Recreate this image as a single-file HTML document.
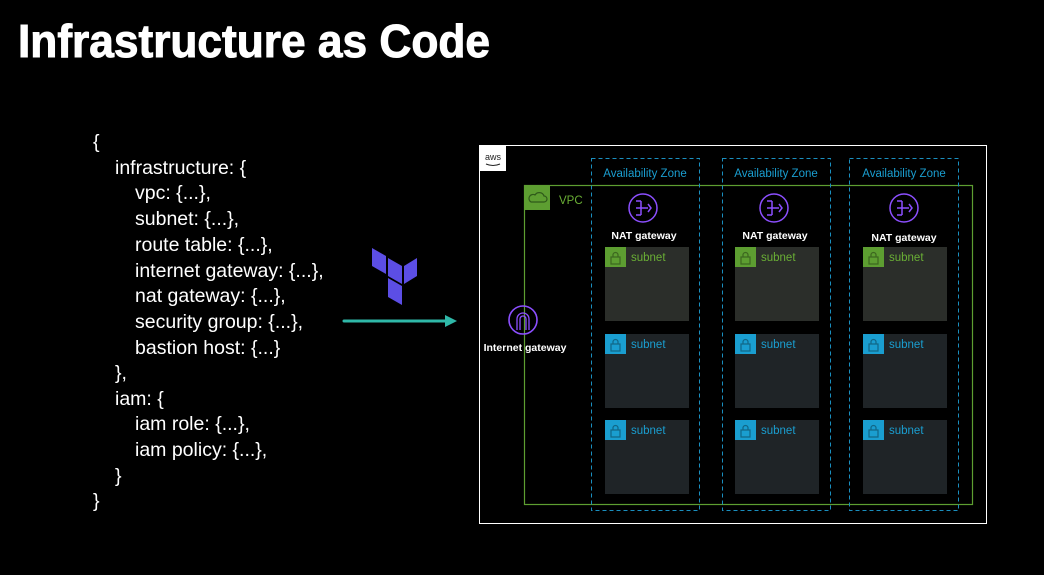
<!DOCTYPE html>
<html><head><meta charset="utf-8"><style>
html,body{margin:0;padding:0;background:#000;}
svg{display:block;}
</style></head><body>
<svg width="1044" height="575" viewBox="0 0 1044 575" xmlns="http://www.w3.org/2000/svg" font-family="Liberation Sans, sans-serif">
<rect width="1044" height="575" fill="#000"/>
<text x="18" y="57" font-size="46" font-weight="bold" fill="#fff" stroke="#fff" stroke-width="1" textLength="472" lengthAdjust="spacingAndGlyphs">Infrastructure as Code</text>
<g fill="#fff" font-size="19.5">
<text x="93" y="148">{</text>
<text x="115" y="174">infrastructure: {</text>
<text x="135" y="199">vpc: {...},</text>
<text x="135" y="225">subnet: {...},</text>
<text x="135" y="251">route table: {...},</text>
<text x="135" y="277">internet gateway: {...},</text>
<text x="135" y="302">nat gateway: {...},</text>
<text x="135" y="328">security group: {...},</text>
<text x="135" y="354">bastion host: {...}</text>
<text x="115" y="379">},</text>
<text x="115" y="405">iam: {</text>
<text x="135" y="430">iam role: {...},</text>
<text x="135" y="456">iam policy: {...},</text>
<text x="115" y="482">}</text>
<text x="93" y="507">}</text>
</g>
<!-- terraform logo -->
<g fill="#5c4ee5">
<polygon points="372,248 386,256 386,274 372,266"/>
<polygon points="388,258 402,266 402,284 388,276"/>
<polygon points="404,266 417,258 417,276 404,284"/>
<polygon points="388,278 402,286 402,305 388,297"/>
</g>
<line x1="344" y1="321" x2="446" y2="321" stroke="#2fb8a8" stroke-width="3" stroke-linecap="round"/>
<polygon points="445,315 457,321 445,327" fill="#2fb8a8"/>
<!-- outer box -->
<rect x="479.5" y="145.5" width="507" height="378" fill="none" stroke="#fff" stroke-width="1"/>
<rect x="480" y="146" width="26" height="25" fill="#fff"/>
<text x="493" y="160" font-size="9" fill="#222" text-anchor="middle">aws</text>
<path d="M486 164 q7 3 14 0" stroke="#222" fill="none" stroke-width="1"/>
<!-- VPC -->
<rect x="524.5" y="185.5" width="448" height="319" fill="none" stroke="#5d9e31" stroke-width="1.2"/>
<rect x="524" y="185" width="26" height="25" fill="#5d9e31"/>
<path d="M531 202 h13 a3 3 0 0 0 0-6 a5 5 0 0 0-9-1 a3 3 0 0 0-4 7z" fill="none" stroke="#2f5a1a" stroke-width="1.2"/>
<text x="559" y="204" font-size="11.5" fill="#6aaf35">VPC</text>
<!-- internet gateway -->
<circle cx="523" cy="320" r="14" fill="none" stroke="#8c4fff" stroke-width="1.6"/>
<path d="M517 330 v-11 a6 6 0 0 1 12 0 v11 M520 330 v-11 a3 3 0 0 1 6 0 v11" fill="none" stroke="#8c4fff" stroke-width="1.3"/>
<text x="525" y="351" font-size="10.5" fill="#fff" text-anchor="middle" font-weight="bold">Internet gateway</text>
<g font-size="11.5">
<rect x="591.5" y="158.5" width="108" height="352" fill="none" stroke="#1a8fbf" stroke-dasharray="4,3"/>
<rect x="722.5" y="158.5" width="108" height="352" fill="none" stroke="#1a8fbf" stroke-dasharray="4,3"/>
<rect x="849.5" y="158.5" width="109" height="352" fill="none" stroke="#1a8fbf" stroke-dasharray="4,3"/>
<text x="645" y="177" fill="#1a9ed0" text-anchor="middle">Availability Zone</text>
<text x="776" y="177" fill="#1a9ed0" text-anchor="middle">Availability Zone</text>
<text x="904" y="177" fill="#1a9ed0" text-anchor="middle">Availability Zone</text>
</g>
<!-- NAT gateways -->
<g fill="none" stroke="#8c4fff" stroke-width="1.5">
<circle cx="643" cy="208" r="14"/><path d="M636 201 l5 0 M636 208 h12 M636 215 h5 M641 201 v14 M648 204 l3 4 -3 4"/>
<circle cx="774" cy="208" r="14"/><path d="M767 201 l5 0 M767 208 h12 M767 215 h5 M772 201 v14 M779 204 l3 4 -3 4"/>
<circle cx="904" cy="208" r="14"/><path d="M897 201 l5 0 M897 208 h12 M897 215 h5 M902 201 v14 M909 204 l3 4 -3 4"/>
</g>
<g font-size="10.5" fill="#fff" text-anchor="middle" font-weight="bold">
<text x="644" y="239">NAT gateway</text>
<text x="775" y="239">NAT gateway</text>
<text x="904" y="241">NAT gateway</text>
</g>
<!-- subnets -->
<g font-size="11.5">
<rect x="605" y="247" width="84" height="74" fill="#2b2e2a"/><rect x="605" y="247" width="21" height="20" fill="#5d9e31"/><text x="631" y="261" fill="#6aaf35">subnet</text>
<rect x="735" y="247" width="84" height="74" fill="#2b2e2a"/><rect x="735" y="247" width="21" height="20" fill="#5d9e31"/><text x="761" y="261" fill="#6aaf35">subnet</text>
<rect x="863" y="247" width="84" height="74" fill="#2b2e2a"/><rect x="863" y="247" width="21" height="20" fill="#5d9e31"/><text x="889" y="261" fill="#6aaf35">subnet</text>

<rect x="605" y="334" width="84" height="74" fill="#1f2427"/><rect x="605" y="334" width="21" height="20" fill="#1a9ed0"/><text x="631" y="348" fill="#1a9ed0">subnet</text>
<rect x="735" y="334" width="84" height="74" fill="#1f2427"/><rect x="735" y="334" width="21" height="20" fill="#1a9ed0"/><text x="761" y="348" fill="#1a9ed0">subnet</text>
<rect x="863" y="334" width="84" height="74" fill="#1f2427"/><rect x="863" y="334" width="21" height="20" fill="#1a9ed0"/><text x="889" y="348" fill="#1a9ed0">subnet</text>

<rect x="605" y="420" width="84" height="74" fill="#1f2427"/><rect x="605" y="420" width="21" height="20" fill="#1a9ed0"/><text x="631" y="434" fill="#1a9ed0">subnet</text>
<rect x="735" y="420" width="84" height="74" fill="#1f2427"/><rect x="735" y="420" width="21" height="20" fill="#1a9ed0"/><text x="761" y="434" fill="#1a9ed0">subnet</text>
<rect x="863" y="420" width="84" height="74" fill="#1f2427"/><rect x="863" y="420" width="21" height="20" fill="#1a9ed0"/><text x="889" y="434" fill="#1a9ed0">subnet</text>
</g>
<!-- lock icons -->
<g fill="none" stroke="rgba(0,0,0,0.35)" stroke-width="1.2">
<path d="M611 257 h9 v7 h-9z M613 257 v-2 a2.5 2.5 0 0 1 5 0 v2"/>
<path d="M741 257 h9 v7 h-9z M743 257 v-2 a2.5 2.5 0 0 1 5 0 v2"/>
<path d="M869 257 h9 v7 h-9z M871 257 v-2 a2.5 2.5 0 0 1 5 0 v2"/>
<path d="M611 344 h9 v7 h-9z M613 344 v-2 a2.5 2.5 0 0 1 5 0 v2"/>
<path d="M741 344 h9 v7 h-9z M743 344 v-2 a2.5 2.5 0 0 1 5 0 v2"/>
<path d="M869 344 h9 v7 h-9z M871 344 v-2 a2.5 2.5 0 0 1 5 0 v2"/>
<path d="M611 430 h9 v7 h-9z M613 430 v-2 a2.5 2.5 0 0 1 5 0 v2"/>
<path d="M741 430 h9 v7 h-9z M743 430 v-2 a2.5 2.5 0 0 1 5 0 v2"/>
<path d="M869 430 h9 v7 h-9z M871 430 v-2 a2.5 2.5 0 0 1 5 0 v2"/>
</g>
</svg>
</body></html>
